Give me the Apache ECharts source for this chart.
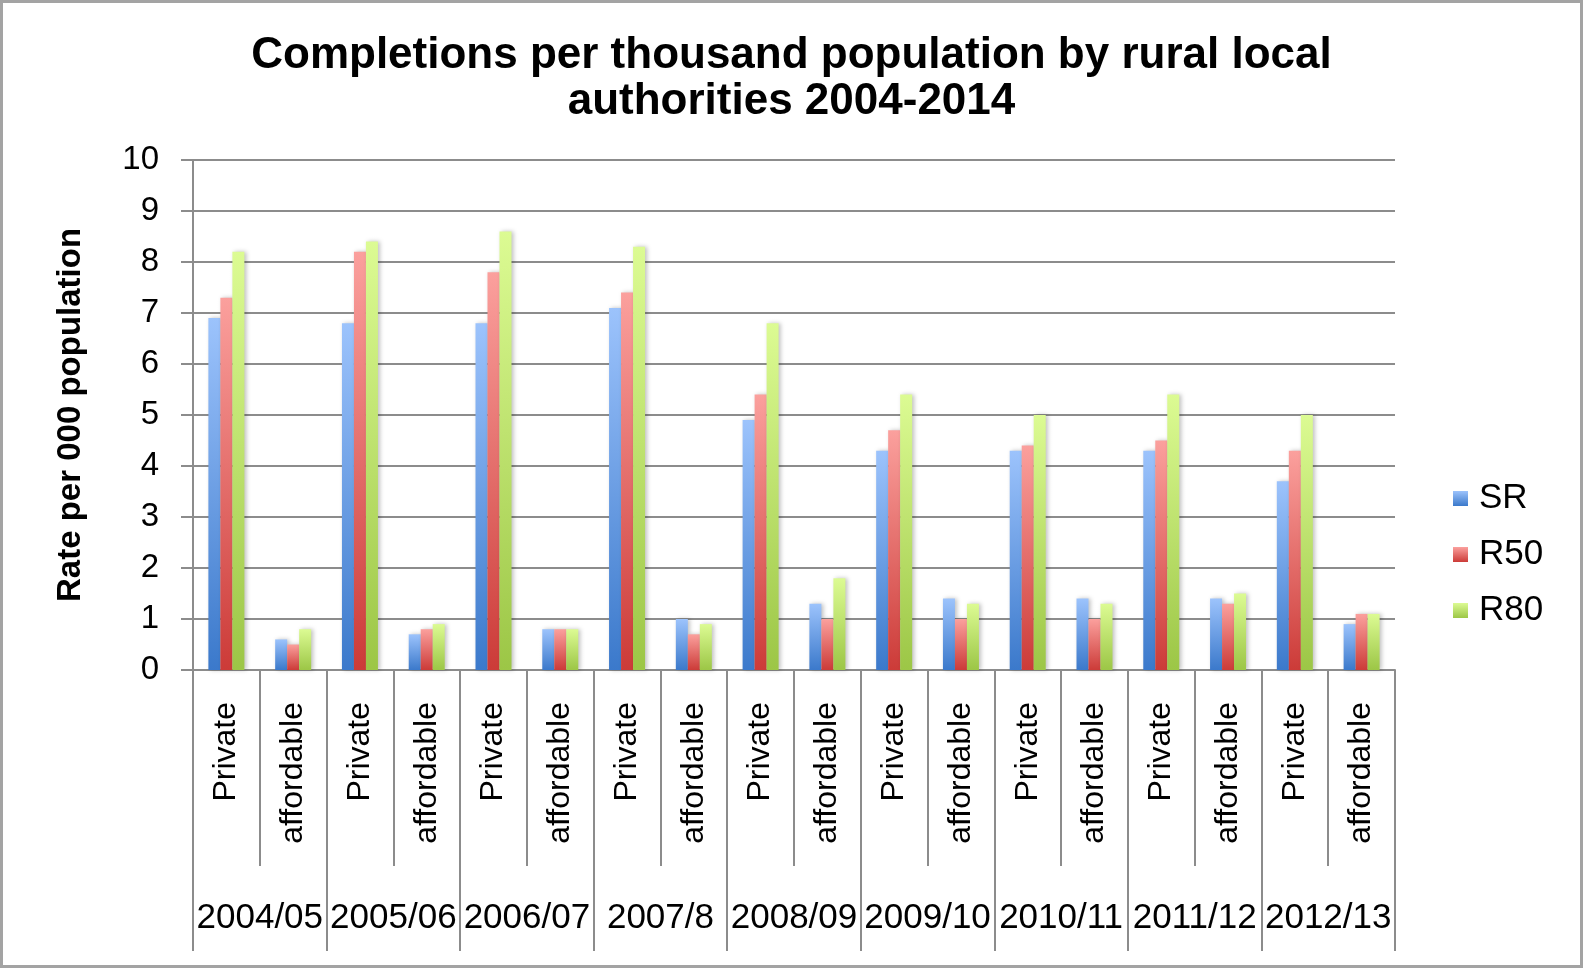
<!DOCTYPE html>
<html>
<head>
<meta charset="utf-8">
<script src="https://cdn.jsdelivr.net/npm/echarts@6/dist/echarts.min.js"></script>
<style>
html,body{margin:0;padding:0;background:#fff;}
#chart{width:1583px;height:968px;}
</style>
</head>
<body>
<div id="chart"></div>
<script>
const titleText = 'Completions per thousand population by rural local\nauthorities 2004-2014';
const yAxisName = 'Rate per 000 population';
const years = ['2004/05','2005/06','2006/07','2007/8','2008/09','2009/10','2010/11','2011/12','2012/13'];
const types = ['Private','affordable'];
const seriesNames = ['SR','R50','R80'];
const SR  = [6.9,0.6, 6.8,0.7, 6.8,0.8, 7.1,1.0, 4.9,1.3, 4.3,1.4, 4.3,1.4, 4.3,1.4, 3.7,0.9];
const R50 = [7.3,0.5, 8.2,0.8, 7.8,0.8, 7.4,0.7, 5.4,1.0, 4.7,1.0, 4.4,1.0, 4.5,1.3, 4.3,1.1];
const R80 = [8.2,0.8, 8.4,0.9, 8.6,0.8, 8.3,0.9, 6.8,1.8, 5.4,1.3, 5.0,1.3, 5.4,1.5, 5.0,1.1];
const yTicks = [0,1,2,3,4,5,6,7,8,9,10];

const categories = [];
years.forEach(() => types.forEach(t => categories.push(t)));

function grad(top, bottom) {
  return new echarts.graphic.LinearGradient(0, 0, 0, 1, [
    {offset: 0, color: top}, {offset: 1, color: bottom}
  ]);
}
const colors = [grad('#9cc3fc', '#3b79cb'), grad('#fba09d', '#cc3b38'), grad('#dcfb93', '#9cc646')];
const dataList = [SR, R50, R80];

const font = 'Liberation Sans, Arial, sans-serif';
const chart = echarts.init(document.getElementById('chart'), null, {renderer: 'canvas'});
chart.setOption({
  animation: false,
  backgroundColor: '#fff',
  textStyle: {fontFamily: font},
  title: {
    text: titleText,
    left: 'center',
    top: 28,
    textStyle: {fontSize: 44, fontWeight: 'bold', color: '#000', lineHeight: 46, fontFamily: font}
  },
  graphic: [{
    type: 'rect',
    shape: {x: 1.5, y: 1.5, width: 1580, height: 965},
    style: {fill: 'none', stroke: '#a3a3a3', lineWidth: 3},
    silent: true
  }],
  legend: {
    orient: 'vertical',
    left: 1448,
    top: 476,
    itemWidth: 15,
    itemHeight: 15,
    itemGap: 21,
    icon: 'rect',
    textStyle: {fontSize: 35, color: '#000', fontFamily: font, padding: [0, 0, 0, 6]},
    data: seriesNames
  },
  grid: {left: 193, right: 188, top: 160, bottom: 298, containLabel: false},
  xAxis: [{
    type: 'category',
    data: categories,
    position: 'bottom',
    axisLine: {show: true, lineStyle: {color: '#8c8c8c', width: 2}},
    axisTick: {show: true, length: 196, lineStyle: {color: '#8c8c8c', width: 2}},
    axisLabel: {rotate: 90, fontSize: 32, color: '#000', margin: 32, interval: 0, fontFamily: font}
  }, {
    type: 'category',
    data: years,
    position: 'bottom',
    axisLine: {show: false},
    axisTick: {show: true, length: 281, lineStyle: {color: '#8c8c8c', width: 2}},
    axisLabel: {fontSize: 35, color: '#000', margin: 231, interval: 0, fontFamily: font}
  }],
  yAxis: {
    type: 'value',
    min: yTicks[0],
    max: yTicks[yTicks.length - 1],
    interval: 1,
    name: yAxisName,
    nameLocation: 'middle',
    nameGap: 106,
    nameTextStyle: {fontSize: 33, fontWeight: 'bold', color: '#000', fontFamily: font},
    axisLine: {show: true, lineStyle: {color: '#8c8c8c', width: 2}},
    axisTick: {show: true, length: 12, lineStyle: {color: '#8c8c8c', width: 2}},
    axisLabel: {fontSize: 33, color: '#000', margin: 34, fontFamily: font},
    splitLine: {show: true, lineStyle: {color: '#8c8c8c', width: 2}}
  },
  series: seriesNames.map((name, i) => ({
    name: name,
    type: 'bar',
    xAxisIndex: 0,
    data: dataList[i],
    barWidth: 12,
    barGap: '0%',
    itemStyle: {
      color: colors[i],
      shadowBlur: 4,
      shadowColor: 'rgba(0,0,0,0.25)',
      shadowOffsetX: 2
    }
  }))
});
</script>
</body>
</html>
